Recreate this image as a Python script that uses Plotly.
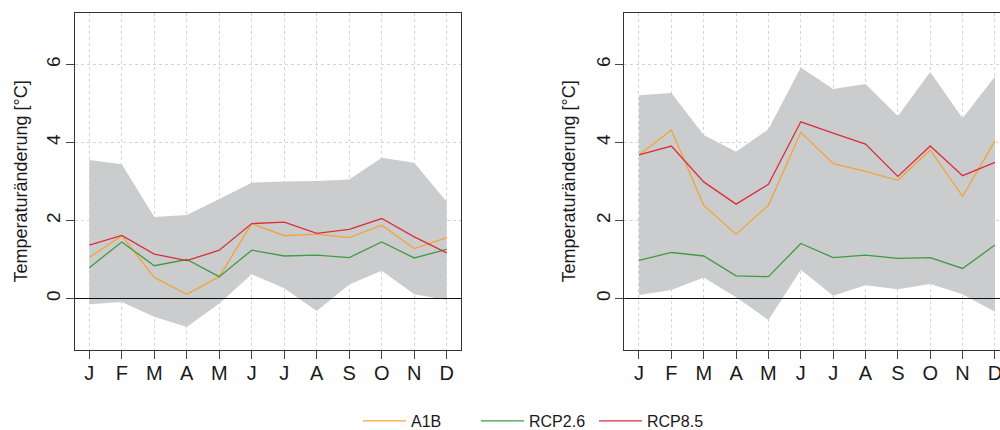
import plotly.graph_objects as go

months = ["J", "F", "M", "A", "M", "J", "J", "A", "S", "O", "N", "D"]
month_pos = list(range(1, 13))

# Left panel
left_upper = [3.55, 3.44, 2.09, 2.14, 2.55, 2.97, 3.00, 3.01, 3.05, 3.61, 3.48, 2.48]
left_lower = [-0.15, -0.09, -0.47, -0.73, -0.13, 0.62, 0.26, -0.32, 0.36, 0.71, 0.11, -0.04]
left_a1b = [1.05, 1.61, 0.54, 0.11, 0.56, 1.92, 1.61, 1.65, 1.56, 1.88, 1.28, 1.56]
left_rcp26 = [0.79, 1.45, 0.84, 1.00, 0.56, 1.24, 1.09, 1.11, 1.05, 1.45, 1.04, 1.26]
left_rcp85 = [1.37, 1.62, 1.14, 0.97, 1.24, 1.92, 1.96, 1.67, 1.77, 2.05, 1.58, 1.17]

# Right panel
right_upper = [5.21, 5.27, 4.19, 3.76, 4.34, 5.92, 5.37, 5.50, 4.68, 5.81, 4.62, 5.69]
right_lower = [0.09, 0.22, 0.54, 0.03, -0.55, 0.74, 0.07, 0.34, 0.24, 0.37, 0.11, -0.34]
right_a1b = [3.68, 4.32, 2.39, 1.65, 2.39, 4.26, 3.46, 3.26, 3.03, 3.81, 2.62, 4.04]
right_rcp26 = [0.98, 1.18, 1.09, 0.58, 0.56, 1.41, 1.05, 1.11, 1.03, 1.05, 0.77, 1.37]
right_rcp85 = [3.68, 3.91, 2.99, 2.42, 2.93, 4.53, 4.24, 3.96, 3.13, 3.91, 3.15, 3.49]

y_ticks = [0, 2, 4, 6]
y_title = "Temperaturänderung [°C]"

C_A1B = "#F2A43A"
C_26 = "#3F9B45"
C_85 = "#D9303A"
C_BAND = "#CBCCCE"
FONT = "Liberation Sans, Arial, sans-serif"
TXT = "#1a1a1a"

fig = go.Figure()

panels = [
    ("x", "y", left_upper, left_lower, left_a1b, left_rcp26, left_rcp85, True),
    ("x2", "y2", right_upper, right_lower, right_a1b, right_rcp26, right_rcp85, False),
]
for xa, ya, up, lo, a1b, r26, r85, show in panels:
    fig.add_trace(go.Scatter(
        x=month_pos + month_pos[::-1], y=up + lo[::-1],
        fill="toself", fillcolor=C_BAND, line=dict(width=0),
        mode="lines", showlegend=False, hoverinfo="skip",
        xaxis=xa, yaxis=ya))
    for name, vals, col in [("A1B", a1b, C_A1B), ("RCP2.6", r26, C_26), ("RCP8.5", r85, C_85)]:
        fig.add_trace(go.Scatter(
            x=month_pos, y=vals, mode="lines", name=name,
            line=dict(color=col, width=1.3), showlegend=show,
            legendgroup=name, xaxis=xa, yaxis=ya))

ydom = [1 - 350 / 430, 1 - 13 / 430]
yrange = [-1.32, 7.32]

common_x = dict(
    tickmode="array", tickvals=month_pos, ticktext=months,
    ticks="outside", ticklen=8, tickwidth=1, tickcolor="#444",
    showline=True, linecolor="#333", linewidth=1.3, mirror=True,
    showgrid=True, gridcolor="#D4D4D4", griddash="dot", gridwidth=1,
    zeroline=False, tickfont=dict(size=20, color=TXT, family=FONT),
    ticklabelstandoff=-3, ticklabeloverflow="allow",
)
common_y = dict(
    domain=ydom, range=yrange, tickmode="array", tickvals=y_ticks,
    ticks="outside", ticklen=8, tickwidth=1, tickcolor="#444",
    showline=True, linecolor="#333", linewidth=1.3,
    showgrid=True, gridcolor="#D4D4D4", griddash="dot", gridwidth=1,
    zeroline=False, tickangle=-90, ticklabelstandoff=-2,
    tickfont=dict(size=19, color=TXT, family=FONT),
)

fig.update_layout(
    width=1000, height=430,
    margin=dict(l=0, r=0, t=0, b=0, autoexpand=False),
    paper_bgcolor="white", plot_bgcolor="white",
    font=dict(family=FONT, color=TXT),
    xaxis=dict(common_x, domain=[75 / 1000, 461 / 1000], range=[0.56, 12.44], anchor="y"),
    yaxis=dict(common_y, mirror=True, anchor="x"),
    xaxis2=dict(common_x, domain=[624.3 / 1000, 1.0], range=[0.546, 12.156], anchor="y2"),
    yaxis2=dict(common_y, mirror=False, anchor="x2"),
    legend=dict(orientation="h", x=0.358, xanchor="left", y=1 - 421 / 430, yanchor="middle",
                font=dict(size=16, color=TXT, family=FONT), entrywidth=60, itemwidth=43,
                bgcolor="rgba(0,0,0,0)"),
    showlegend=True,
)

for xr, yr in [("x domain", "y"), ("x2 domain", "y2")]:
    fig.add_shape(type="line", xref=xr, yref=yr, x0=0, x1=1, y0=0, y1=0,
                  line=dict(color="#111", width=1.2), layer="above")

for xc in [20 / 1000, 568 / 1000]:
    fig.add_annotation(text=y_title, x=xc, y=(ydom[0] + ydom[1]) / 2, xref="paper", yref="paper",
                       textangle=-90, showarrow=False, xanchor="center", yanchor="middle",
                       font=dict(size=18, color=TXT, family=FONT))

fig.write_html("out.html")
